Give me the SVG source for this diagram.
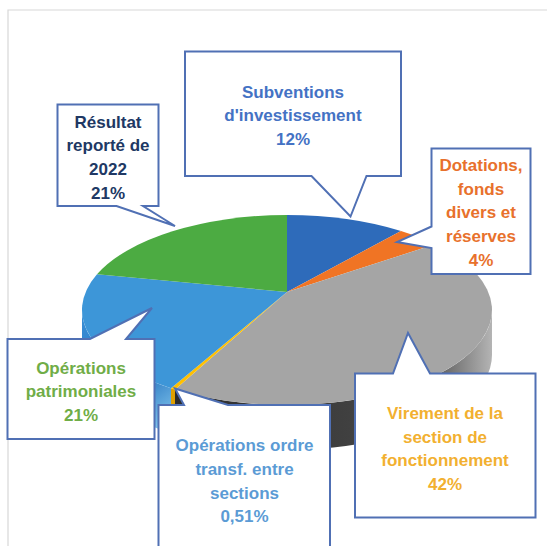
<svg xmlns="http://www.w3.org/2000/svg" width="547" height="546" viewBox="0 0 547 546">
<defs>
<style>
.box{fill:#ffffff;stroke:#5070b4;stroke-width:2;stroke-linejoin:miter}
.t{font-family:"Liberation Sans",Arial,sans-serif;font-weight:bold;font-size:17px;text-anchor:middle}
</style>
<linearGradient id="gside" x1="175" y1="0" x2="492" y2="0" gradientUnits="userSpaceOnUse">
<stop offset="0" stop-color="#2c2c2c"/>
<stop offset="0.55" stop-color="#404040"/>
<stop offset="0.85" stop-color="#6a6a6a"/>
<stop offset="1" stop-color="#b4b4b4"/>
</linearGradient>
<linearGradient id="bside" x1="82" y1="310" x2="171" y2="430" gradientUnits="userSpaceOnUse">
<stop offset="0" stop-color="#3a8fd6"/>
<stop offset="0.6" stop-color="#2474c0"/>
<stop offset="1" stop-color="#8fd0f2"/>
</linearGradient>
</defs>
<rect width="547" height="546" fill="#ffffff"/>
<path d="M8,546 V10 H547" fill="none" stroke="#d8d8d8" stroke-width="1.2"/>

<g id="pie">
<path d="M82,310 L82,355 A205,95 0 0 0 171,433.3 L171,388.3 A205,95 0 0 1 82,310 Z" fill="url(#bside)"/>
<path d="M171,388.3 L171,433.3 A205,95 0 0 0 175,434.6 L175,389.6 Z" fill="#e0a000"/>
<path d="M175,389.6 L175,434.6 A205,95 0 0 0 492,355 L492,310 A205,95 0 0 1 175,389.6 Z" fill="url(#gside)"/>
<path d="M287,292 L287,215 A205,95 0 0 1 401,231 Z" fill="#2e6bba"/>
<path d="M287,292 L401,231 A205,95 0 0 1 435,244.3 Z" fill="#f07424"/>
<path d="M287,292 L435,244.3 A205,95 0 0 1 175,389.6 Z" fill="#a5a5a5"/>
<path d="M287,292 L175,389.6 A205,95 0 0 1 171,388.3 Z" fill="#ffc000"/>
<path d="M287,292 L171,388.3 A205,95 0 0 1 97,274.3 Z" fill="#3d96d8"/>
<path d="M287,292 L97,274.3 A205,95 0 0 1 287,215 Z" fill="#4cab42"/>
</g>

<g id="resultat">
<path class="box" d="M57.5,104.5 H158.5 V206 H143 L175,226 L116.5,206 H57.5 Z"/>
<text class="t" fill="#203864"><tspan x="108" y="127.5">Résultat</tspan><tspan x="108" y="151.2">reporté de</tspan><tspan x="108" y="174.9">2022</tspan><tspan x="108" y="198.6">21%</tspan></text>
</g>

<g id="subventions">
<path class="box" d="M185,51.5 H401 V176 H366.5 L350.5,216.5 L311.5,176 H185 Z"/>
<text class="t" fill="#4472c4"><tspan x="293" y="97.5">Subventions</tspan><tspan x="293" y="121.2">d'investissement</tspan><tspan x="293" y="144.9">12%</tspan></text>
</g>

<g id="dotations">
<path class="box" d="M431.5,148.5 H530.5 V274 H431.5 V248 L397,242 L431.5,226.5 Z"/>
<text class="t" fill="#e8712c"><tspan x="481" y="171">Dotations,</tspan><tspan x="481" y="194.7">fonds</tspan><tspan x="481" y="218.4">divers et</tspan><tspan x="481" y="242.1">réserves</tspan><tspan x="481" y="265.8">4%</tspan></text>
</g>

<g id="patrimoniales">
<path class="box" d="M7.5,339 H90 L152,308 L126,339 H154.5 V439 H7.5 Z"/>
<text class="t" fill="#70ad47"><tspan x="81" y="373.5">Opérations</tspan><tspan x="81" y="397.2">patrimoniales</tspan><tspan x="81" y="420.9">21%</tspan></text>
</g>

<g id="ordre">
<path class="box" d="M158.5,560 V405 H184 L175,388.5 L228,405 H330 V560"/>
<text class="t" fill="#5b9bd5"><tspan x="244.5" y="451.3">Opérations ordre</tspan><tspan x="244.5" y="475">transf. entre</tspan><tspan x="244.5" y="498.7">sections</tspan><tspan x="244.5" y="522.4">0,51%</tspan></text>
</g>

<g id="virement">
<path class="box" d="M355,373.5 H393 L408,333 L430,373.5 H535.5 V517.5 H355 Z"/>
<text class="t" fill="#f2b030"><tspan x="445" y="418.8">Virement de la</tspan><tspan x="445" y="442.5">section de</tspan><tspan x="445" y="466.2">fonctionnement</tspan><tspan x="445" y="489.9">42%</tspan></text>
</g>
</svg>
